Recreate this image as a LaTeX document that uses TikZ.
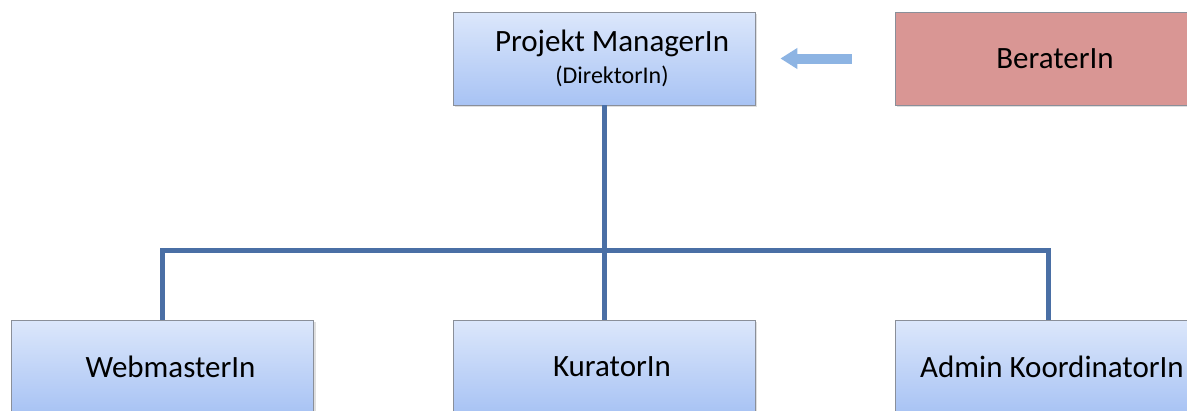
\documentclass[tikz,border=0pt]{standalone}
\usepackage{fontspec}
\setmainfont{Carlito}
\usetikzlibrary{shapes,arrows.meta,positioning,shadows,calc}
\definecolor{boxtop}{HTML}{DCE7FB}
\definecolor{boxbot}{HTML}{A8C3F4}
\definecolor{boxline}{HTML}{8A8F99}
\definecolor{linkblue}{HTML}{4A6FA5}
\definecolor{arrowblue}{HTML}{8DB4E3}
\definecolor{beraterred}{HTML}{D99694}
\begin{document}
\begin{tikzpicture}[x=1pt,y=-1pt,
  rolebox/.style={draw=boxline,line width=0.8pt,top color=boxtop,bottom color=boxbot,
    minimum width=302pt,minimum height=93pt,inner sep=0pt,align=center,font=\fontsize{31}{33}\selectfont,
    drop shadow={shadow xshift=2pt,shadow yshift=-2pt,opacity=0.25}},
  beraterbox/.style={rolebox,top color=beraterred,bottom color=beraterred,minimum width=320pt},
  link/.style={draw=linkblue,line width=5pt},
  hint/.style={draw=arrowblue,line width=10pt,-{Triangle[length=17pt,width=20pt]}}]
\useasboundingbox (0,0) rectangle (1187,410);
\clip (0,0) rectangle (1187,410);
% oben
\node[rolebox] (manager) at (604,58.5) {\hspace*{16pt}Projekt ManagerIn\\[-1pt]\hspace*{16pt}{\fontsize{24}{26}\selectfont (DirektorIn)}};
\node[beraterbox] (berater) at (1055,58.5) {BeraterIn};
% unten
\node[rolebox] (webmaster) at (162.5,366.5) {\hspace*{16pt}WebmasterIn};
\node[rolebox] (kurator) at (604,366.5) {\hspace*{16pt}KuratorIn};
\node[rolebox,minimum width=306pt] (admin) at (1048,366.5) {\hspace*{8pt}Admin KoordinatorIn};
% Verbindungen
\coordinate (branch) at (manager.south |- 0,250);
\draw[link] (manager.south) -- (kurator.north);
\draw[link] (webmaster.north) |- (branch) -| (admin.north);
\draw[hint] ([xshift=-43pt]berater.west) -- ([xshift=25pt]manager.east);
\end{tikzpicture}
\end{document}
